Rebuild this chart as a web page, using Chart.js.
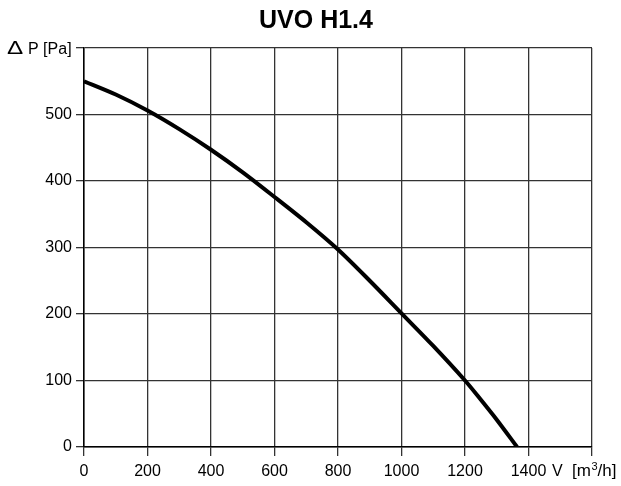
<!DOCTYPE html>
<html>
<head>
<meta charset="utf-8">
<script src="https://cdn.jsdelivr.net/npm/chart.js@4"></script>
<style>
  html, body { margin: 0; padding: 0; background: #fff; }
  #wrap { width: 621px; height: 486px; position: relative; }
</style>
</head>
<body>
<div id="wrap"><canvas id="c"></canvas></div>
<script>
// Data
const chartTitle = "UVO H1.4";
const airflow = [0, 100, 200, 300, 400, 500, 600, 700, 800, 900, 1000, 1100, 1200, 1250, 1300, 1364];
const pressure = [550, 530, 506, 478, 447, 413, 376, 338, 297, 250, 201, 152, 100, 71, 41, 0];
const xTicks = [0, 200, 400, 600, 800, 1000, 1200, 1400, 1600];
const yTicks = [0, 100, 200, 300, 400, 500, 600];
const xAxisLabel = ["V", "[m", "3", "/h]"];
const yAxisLabelSymbol = "Δ";
const yAxisLabelText = "P [Pa]";

const FONT = "'Liberation Sans', Arial, sans-serif";

const axisLabels = {
  id: 'axisLabels',
  afterDraw(chart) {
    const ctx = chart.ctx;
    const area = chart.chartArea;
    ctx.save();
    ctx.fillStyle = '#000';
    // Y axis label at top-left
    ctx.textBaseline = 'alphabetic';
    ctx.textAlign = 'left';
    ctx.font = "16px " + FONT;
    const baseY = area.top + 6;
    ctx.fillText(yAxisLabelText, area.left - 56, baseY);
    ctx.save();
    ctx.translate(area.left - 77, baseY);
    ctx.scale(1.35, 1);
    ctx.font = "18px " + FONT;
    ctx.fillText(yAxisLabelSymbol, 0, 0);
    ctx.restore();
    // X axis label after the last shown tick
    const xb = area.bottom + 29;
    ctx.font = "16px " + FONT;
    ctx.fillText(xAxisLabel[0], area.right - 40, xb);
    ctx.font = "17px " + FONT;
    ctx.fillText(xAxisLabel[1], area.right - 20, xb);
    const w1 = ctx.measureText(xAxisLabel[1]).width;
    ctx.font = "11px " + FONT;
    ctx.fillText(xAxisLabel[2], area.right - 20 + w1 + 0.5, xb - 6);
    const w2 = ctx.measureText(xAxisLabel[2]).width;
    ctx.font = "17px " + FONT;
    ctx.fillText(xAxisLabel[3], area.right - 20 + w1 + w2 + 0.5, xb);
    ctx.restore();
  }
};

new Chart(document.getElementById('c'), {
  type: 'line',
  data: {
    datasets: [{
      data: airflow.map((v, i) => ({ x: v, y: pressure[i] })),
      borderColor: '#000',
      borderWidth: 4,
      pointRadius: 0,
      tension: 0.3,
      fill: false
    }]
  },
  options: {
    responsive: true,
    maintainAspectRatio: false,
    animation: false,
    layout: { padding: { left: 40, right: 29, top: 0, bottom: 0 } },
    plugins: {
      legend: { display: false },
      tooltip: { enabled: false },
      title: {
        display: true,
        text: chartTitle,
        color: '#000',
        font: { family: FONT, size: 25, weight: 'bold' },
        padding: { top: 6, bottom: 12 }
      }
    },
    scales: {
      x: {
        type: 'linear',
        min: 0, max: 1600,
        afterBuildTicks(scale) { scale.ticks = xTicks.map(v => ({ value: v })); },
        afterFit(scale) { scale.height = 39; },
        border: { display: true, color: '#000', width: 1.5 },
        grid: { color: '#333', lineWidth: 1.3, drawTicks: true, tickLength: 9, tickColor: '#333' },
        ticks: {
          color: '#000',
          font: { family: FONT, size: 16 },
          padding: 6,
          maxRotation: 0,
          autoSkip: false,
          callback: (v) => (v === 1600 ? '' : String(v))
        }
      },
      y: {
        type: 'linear',
        min: 0, max: 600,
        afterBuildTicks(scale) { scale.ticks = yTicks.map(v => ({ value: v })); },
        afterFit(scale) { scale.width = 44; },
        border: { display: true, color: '#000', width: 1.5 },
        grid: { color: '#333', lineWidth: 1.3, drawTicks: true, tickLength: 8, tickColor: '#333' },
        ticks: {
          color: '#000',
          font: { family: FONT, size: 16 },
          padding: 4,
          autoSkip: false,
          callback: (v) => (v === 600 ? '' : String(v))
        }
      }
    }
  },
  plugins: [axisLabels]
});
</script>
</body>
</html>
